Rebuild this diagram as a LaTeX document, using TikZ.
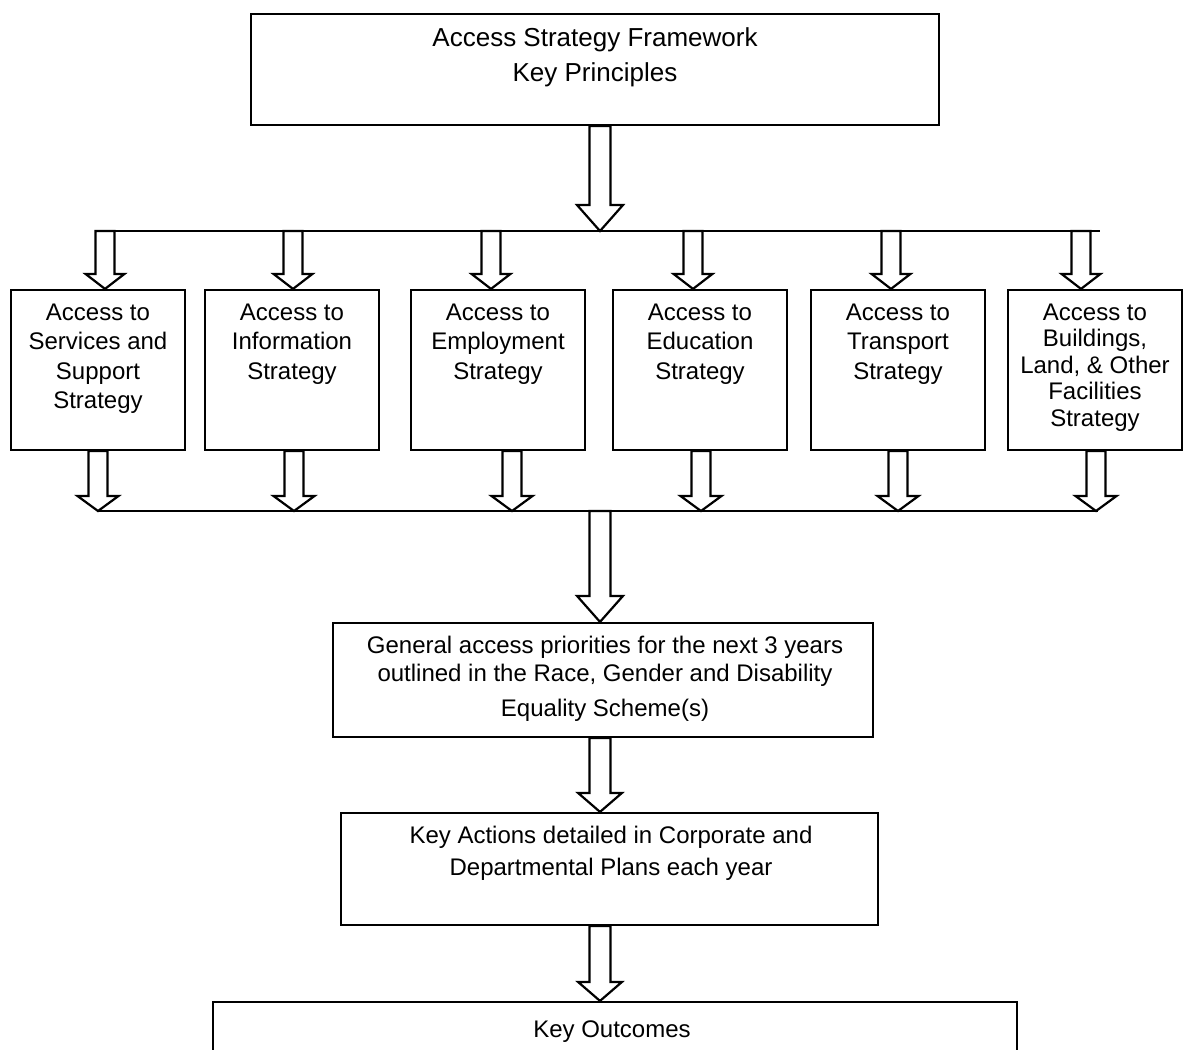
\documentclass[tikz,border=0pt]{standalone}
\usepackage{fontspec}
\setmainfont{Liberation Sans}
\usetikzlibrary{calc}

% hollow block arrow pointing down: #1 start, #2 tip, #3 half shaft, #4 half head, #5 head length
\newcommand{\blockarrow}[5]{%
  \draw[arrowline] let \p1=#1, \p2=#2 in
    (\x1-#3,\y1) -- (\x1-#3,\y2+#5) -- (\x1-#4,\y2+#5) -- (\x1,\y2)
    -- (\x1+#4,\y2+#5) -- (\x1+#3,\y2+#5) -- (\x1+#3,\y1) -- cycle;}

\begin{document}
\begin{tikzpicture}[x=1pt,y=-1pt,
  line/.style={line width=2.2pt},
  box/.style={draw, line width=2.2pt, inner sep=0pt, fill=white},
  arrowline/.style={draw, fill=white, line width=2.2pt, line join=miter},
  txt/.style={inner sep=0pt, anchor=base, font=\fontsize{24}{29.5}\selectfont}]
\useasboundingbox (0,0) rectangle (1184,1050);
\clip (0,0) rectangle (1184,1050);

% boxes
\node[box, minimum width=688pt, minimum height=111pt] (top) at (595,69.5) {};
\node[box, minimum width=174pt, minimum height=160pt] (b1) at (98,370) {};
\node[box, minimum width=174pt, minimum height=160pt] (b2) at (292,370) {};
\node[box, minimum width=174pt, minimum height=160pt] (b3) at (498,370) {};
\node[box, minimum width=174pt, minimum height=160pt] (b4) at (700,370) {};
\node[box, minimum width=174pt, minimum height=160pt] (b5) at (898,370) {};
\node[box, minimum width=174pt, minimum height=160pt] (b6) at (1095,370) {};
\node[box, minimum width=540pt, minimum height=114pt] (gen) at (603,680) {};
\node[box, minimum width=537pt, minimum height=112pt] (act) at (609.5,869) {};
\node[box, minimum width=804pt, minimum height=78pt] (out) at (615,1041) {};

% distribution lines
\coordinate (busTL) at (96,231);
\coordinate (busTR) at (1100,231);
\coordinate (busBL) at (98,511);
\coordinate (busBR) at (1098,511);
\draw[line] (busTL) -- (busTR);
\draw[line] (busBL) -- (busBR);

% arrow positions on the lines
\coordinate (c0) at (600,231);
\coordinate (c1) at (600,511);
\coordinate (k1) at (105,231);
\coordinate (k2) at (293,231);
\coordinate (k3) at (491,231);
\coordinate (k4) at (693,231);
\coordinate (k5) at (891,231);
\coordinate (k6) at (1081,231);
\coordinate (m1) at (98,511);
\coordinate (m2) at (294,511);
\coordinate (m3) at (512,511);
\coordinate (m4) at (701,511);
\coordinate (m5) at (898,511);
\coordinate (m6) at (1096,511);

% main arrows
\blockarrow{(c0 |- top.south)}{(c0)}{10.5pt}{23pt}{26pt}
\blockarrow{(c1)}{(c1 |- gen.north)}{10.5pt}{23pt}{26pt}
\blockarrow{(c1 |- gen.south)}{(c1 |- act.north)}{10.5pt}{22pt}{19pt}
\blockarrow{(c1 |- act.south)}{(c1 |- out.north)}{10.5pt}{22pt}{19pt}

% arrows into the strategy boxes
\blockarrow{(k1)}{(k1 |- b1.north)}{9.5pt}{19.5pt}{15pt}
\blockarrow{(k2)}{(k2 |- b2.north)}{9.5pt}{19.5pt}{15pt}
\blockarrow{(k3)}{(k3 |- b3.north)}{9.5pt}{19.5pt}{15pt}
\blockarrow{(k4)}{(k4 |- b4.north)}{9.5pt}{19.5pt}{15pt}
\blockarrow{(k5)}{(k5 |- b5.north)}{9.5pt}{19.5pt}{15pt}
\blockarrow{(k6)}{(k6 |- b6.north)}{9.5pt}{19.5pt}{15pt}

% arrows out of the strategy boxes
\blockarrow{(m1 |- b1.south)}{(m1)}{9.5pt}{20.5pt}{15pt}
\blockarrow{(m2 |- b2.south)}{(m2)}{9.5pt}{20.5pt}{15pt}
\blockarrow{(m3 |- b3.south)}{(m3)}{9.5pt}{20.5pt}{15pt}
\blockarrow{(m4 |- b4.south)}{(m4)}{9.5pt}{20.5pt}{15pt}
\blockarrow{(m5 |- b5.south)}{(m5)}{9.5pt}{20.5pt}{15pt}
\blockarrow{(m6 |- b6.south)}{(m6)}{9.5pt}{20.5pt}{15pt}

% texts
\node[txt, font=\fontsize{26}{35}\selectfont] (ttop) at (595,46)
  {\parbox[t]{600pt}{\centering Access Strategy Framework\\Key Principles}};
\node[txt] (t1) at (98,320) {\parbox[t]{170pt}{\centering Access to\\Services and\\Support\\Strategy}};
\node[txt] (t2) at (292,320) {\parbox[t]{170pt}{\centering Access to\\Information\\Strategy}};
\node[txt] (t3) at (498,320) {\parbox[t]{170pt}{\centering Access to\\Employment\\Strategy}};
\node[txt] (t4) at (700,320) {\parbox[t]{170pt}{\centering Access to\\Education\\Strategy}};
\node[txt] (t5) at (898,320) {\parbox[t]{170pt}{\centering Access to\\Transport\\Strategy}};
\node[txt, font=\fontsize{24}{26.5}\selectfont] (t6) at (1095,320)
  {\parbox[t]{172pt}{\centering Access to\\Buildings,\\Land, \& Other\\Facilities\\Strategy}};
\node[txt, font=\fontsize{24}{28}\selectfont] (tgen) at (605,653)
  {\parbox[t]{530pt}{\centering General access priorities for the next 3 years\\outlined in the Race, Gender and Disability\\[7pt]Equality Scheme(s)}};
\node[txt, font=\fontsize{24}{32}\selectfont] (tact) at (611,843)
  {\parbox[t]{530pt}{\centering Key Actions detailed in Corporate and\\Departmental Plans each year}};
\node[txt] (tout) at (612,1037) {Key Outcomes};
\end{tikzpicture}
\end{document}
